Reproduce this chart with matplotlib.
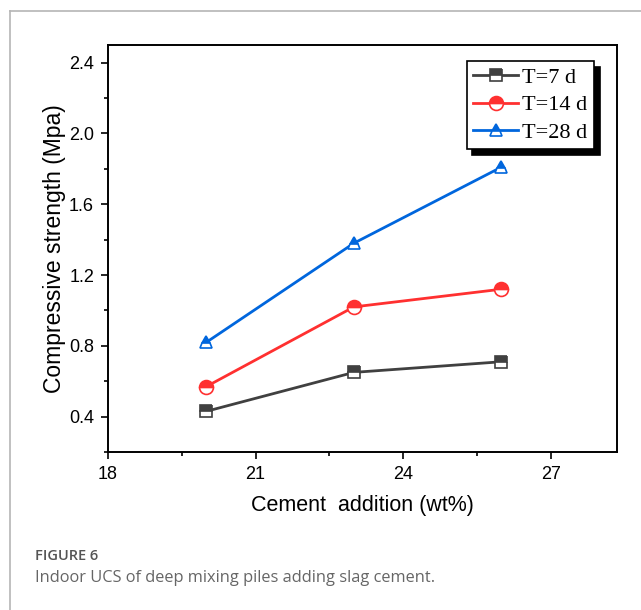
import matplotlib
matplotlib.use("Agg")
import matplotlib.pyplot as plt
from matplotlib.lines import Line2D
from matplotlib.ticker import MultipleLocator

cement = [20, 23, 26]
t7 = [0.43, 0.65, 0.71]
t14 = [0.57, 1.02, 1.12]
t28 = [0.82, 1.38, 1.81]
series = [("T=7 d", t7, "#404040", "s"),
          ("T=14 d", t14, "#ff3030", "o"),
          ("T=28 d", t28, "#0066dd", "^")]
xticks = [18, 21, 24, 27]
yticks = [0.4, 0.8, 1.2, 1.6, 2.0, 2.4]

W, H = 641, 610
fig = plt.figure(figsize=(W / 100, H / 100), dpi=100)

# page frame (left and top rules)
fig.add_artist(Line2D([10 / W, 10 / W], [0, 1 - 11 / H], color="#b5b5b5", lw=1.2))
fig.add_artist(Line2D([10 / W, 1], [1 - 11 / H, 1 - 11 / H], color="#b5b5b5", lw=1.2))

ax = fig.add_axes([108 / W, 1 - 452 / H, (617 - 108) / W, (452 - 45) / H])

for label, vals, col, mk in series:
    ax.plot(cement, vals, color=col, lw=2, marker=mk, markersize=9 if mk != "o" else 10,
            fillstyle="top", markerfacecolor=col, markerfacecoloralt="white",
            markeredgecolor=col, markeredgewidth=1.2, label=label)

ax.set_xlim(18, 28.35)
ax.set_ylim(0.2, 2.5)
ax.set_xticks(xticks)
ax.set_yticks(yticks)
ax.xaxis.set_minor_locator(MultipleLocator(1.5))
ax.yaxis.set_minor_locator(MultipleLocator(0.2))
ax.tick_params(which="both", direction="out", width=1.2, colors="black",
               labelsize=13, labelfontfamily="Liberation Sans")
ax.tick_params(which="major", length=5, pad=5)
ax.tick_params(which="minor", length=3)
for s in ax.spines.values():
    s.set_linewidth(1.4)

ax.set_xlabel("Cement  addition (wt%)", fontsize=15.5, family="Liberation Sans", labelpad=9)
ax.set_ylabel("Compressive strength (Mpa)", fontsize=16.5, family="Liberation Sans", labelpad=2)

leg = ax.legend(loc="upper right", bbox_to_anchor=((594 - 108) / (617 - 108), 1 - (61 - 45) / (452 - 45)),
                prop={"family": "Liberation Serif", "size": 16}, frameon=True, fancybox=False,
                shadow={"color": "black", "alpha": 1, "ox": 4, "oy": -4}, handlelength=2.0,
                handletextpad=0.2, borderpad=0.3, borderaxespad=0, labelspacing=0.3)
leg.get_frame().set_edgecolor("black")
leg.get_frame().set_linewidth(1.2)

fig.text(35 / W, 1 - 556 / H, "FIGURE 6", fontsize=10.5, color="#555555",
         family="Open Sans", fontweight="semibold", va="center")
fig.text(35 / W, 1 - 578 / H, "Indoor UCS of deep mixing piles adding slag cement.",
         fontsize=11.8, color="#666666", family="Open Sans", va="center")

fig.savefig("out.png", dpi=100)
